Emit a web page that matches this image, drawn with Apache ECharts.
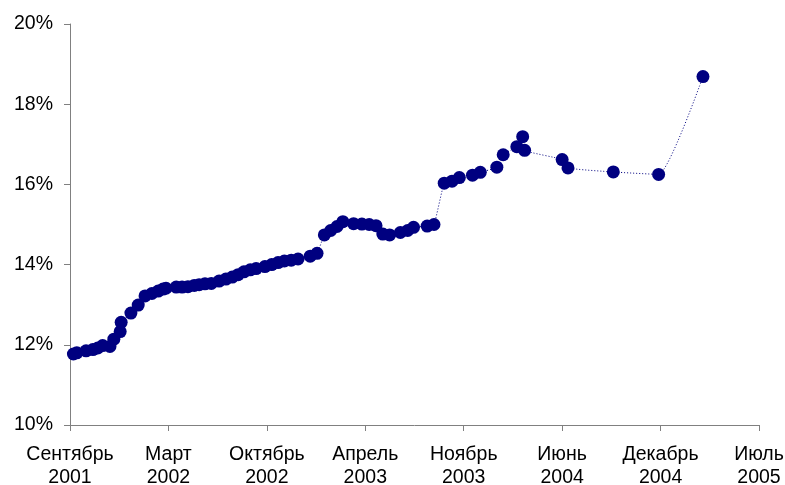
<!DOCTYPE html>
<html>
<head>
<meta charset="utf-8">
<script src="https://cdn.jsdelivr.net/npm/echarts@6/dist/echarts.min.js"></script>
<style>
  html, body { margin: 0; padding: 0; background: #fff; }
  #chart { width: 785px; height: 485px; }
</style>
</head>
<body>
<div id="chart"></div>
<script>
// даты наблюдений и значения (%)
var dates = [
  '2001-09-08', '2001-09-15', '2001-10-04', '2001-10-18', '2001-10-28', '2001-11-07', '2001-11-22', '2001-11-30',
  '2001-12-13', '2001-12-15', '2002-01-04', '2002-01-19', '2002-02-02', '2002-02-16', '2002-03-01', '2002-03-11',
  '2002-03-17', '2002-04-07', '2002-04-19', '2002-05-01', '2002-05-14', '2002-05-24', '2002-06-05', '2002-06-18',
  '2002-07-04', '2002-07-18', '2002-07-31', '2002-08-12', '2002-08-24', '2002-09-06', '2002-09-18', '2002-10-06',
  '2002-10-20', '2002-11-02', '2002-11-15', '2002-11-29', '2002-12-13', '2003-01-07', '2003-01-21', '2003-02-05',
  '2003-02-18', '2003-03-03', '2003-03-15', '2003-04-06', '2003-04-23', '2003-05-08', '2003-05-22', '2003-06-05',
  '2003-06-19', '2003-07-11', '2003-07-26', '2003-08-07', '2003-09-04', '2003-09-18', '2003-10-09', '2003-10-25',
  '2003-11-09', '2003-12-06', '2003-12-22', '2004-01-25', '2004-02-07', '2004-03-06', '2004-03-18', '2004-03-22',
  '2004-06-07', '2004-06-19', '2004-09-20', '2004-12-22', '2005-03-23'
]
var values = [
  11.77, 11.80, 11.85, 11.88, 11.92, 11.98, 11.96, 12.14,
  12.33, 12.56, 12.79, 12.99, 13.22, 13.28, 13.34, 13.39,
  13.41, 13.44, 13.44, 13.45, 13.48, 13.50, 13.52, 13.53,
  13.59, 13.64, 13.69, 13.75, 13.82, 13.87, 13.90, 13.95,
  14.00, 14.05, 14.09, 14.11, 14.14, 14.21, 14.28, 14.74,
  14.85, 14.95, 15.07, 15.02, 15.01, 15.00, 14.97, 14.76,
  14.74, 14.80, 14.85, 14.93, 14.96, 15.00, 16.03, 16.08,
  16.17, 16.23, 16.30, 16.43, 16.74, 16.94, 17.19, 16.85,
  16.62, 16.41, 16.31, 16.25, 18.69
]
var tickLabels = [
  'Сентябрь\n2001', 'Март\n2002', 'Октябрь\n2002', 'Апрель\n2003',
  'Ноябрь\n2003', 'Июнь\n2004', 'Декабрь\n2004', 'Июль\n2005'
]

var DAY = 86400000
var xMin = Date.UTC(2001, 8, 1)
var xStep = 202 * DAY
var xMax = xMin + (tickLabels.length - 1) * xStep

function toTime(s) {
  var p = s.split('-')
  return Date.UTC(+p[0], +p[1] - 1, +p[2])
}

var seriesData = []
for (var i = 0; i < dates.length; i++) {
  seriesData.push([toTime(dates[i]), values[i]])
}

var axisColor = '#808080'
var font = 'Liberation Sans, Arial, sans-serif'

var myChart = echarts.init(document.getElementById('chart'), null, {renderer: 'canvas'})
var option = {
  backgroundColor: '#ffffff',
  animation: false,
  grid: {left: 70, right: 26, top: 24, bottom: 60, containLabel: false, outerBoundsMode: 'none'},
  xAxis: {
    type: 'value',
    min: xMin,
    max: xMax,
    interval: xStep,
    splitLine: {show: false},
    axisLine: {lineStyle: {color: axisColor, width: 1}},
    axisTick: {show: true, inside: false, length: 6, lineStyle: {color: axisColor}},
    axisLabel: {
      margin: 18,
      color: '#000',
      fontFamily: font,
      fontSize: 19.5,
      lineHeight: 23,
      showMinLabel: true,
      showMaxLabel: true,
      formatter: function (v) {
        var k = Math.round((v - xMin) / xStep)
        return tickLabels[k] || ''
      }
    }
  },
  yAxis: {
    type: 'value',
    min: 10,
    max: 20,
    interval: 2,
    splitLine: {show: false},
    axisLine: {show: true, lineStyle: {color: axisColor, width: 1}},
    axisTick: {show: true, inside: false, length: 6, lineStyle: {color: axisColor}},
    axisLabel: {
      margin: 17,
      color: '#000',
      fontFamily: font,
      fontSize: 19.5,
      formatter: '{value}%'
    }
  },
  series: [
    {
      type: 'line',
      data: seriesData,
      smooth: 0.15,
      symbol: 'circle',
      symbolSize: 13,
      itemStyle: {color: '#000080'},
      lineStyle: {color: '#000080', width: 1, type: [1, 2]}
    }
  ]
}

myChart.setOption(option)
</script>
</body>
</html>
